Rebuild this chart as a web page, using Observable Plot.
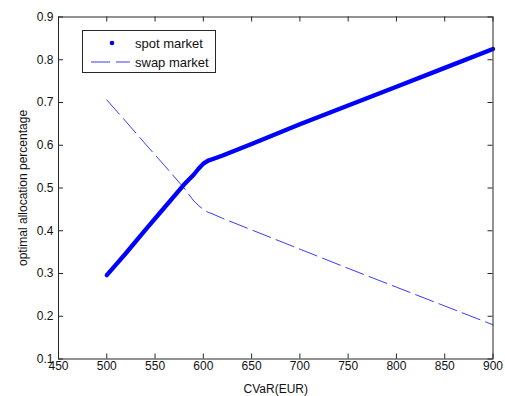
<!DOCTYPE html>
<html>
<head>
<meta charset="utf-8">
<script src="https://cdn.jsdelivr.net/npm/d3@7"></script>
<script src="https://cdn.jsdelivr.net/npm/@observablehq/plot@0.6"></script>
<style>
  body { margin: 0; background: #fff; }
  #wrap { position: relative; width: 505px; height: 396px; font-family: "Liberation Sans", Arial, sans-serif; }
  #legend { position: absolute; left: 82px; top: 30px; width: 132px; height: 41px; border: 1px solid #262626; background: #fff; font-size: 13px; color: #111; }
  #legend .row { position: absolute; left: 0; height: 16px; display: flex; align-items: center; }
  #legend svg { display: block; }
  #legend span { position: absolute; left: 52px; white-space: nowrap; }
</style>
</head>
<body>
<div id="wrap">
  <div id="chart"></div>
  <div id="legend">
    <div class="row" style="top:4px;width:132px"><svg width="50" height="16" style="position:absolute;left:0"><circle cx="29" cy="8" r="2.3" fill="#0000ff"/></svg><span>spot market</span></div>
    <div class="row" style="top:23px;width:132px"><svg width="50" height="16" style="position:absolute;left:0"><line x1="8" y1="8" x2="47" y2="8" stroke="#3a3aff" stroke-width="1" stroke-dasharray="19,6"/></svg><span>swap market</span></div>
  </div>
</div>
<script>
// spot market (optimal allocation vs CVaR)
const spotX = [500, 510, 520, 540, 560, 580, 590, 595, 600, 605, 610, 620, 650, 700, 750, 800, 850, 900];
const spotY = [0.296, 0.322, 0.348, 0.402, 0.455, 0.508, 0.531, 0.545, 0.557, 0.564, 0.568, 0.576, 0.603, 0.649, 0.693, 0.737, 0.781, 0.825];
// swap market
const swapX = [500, 520, 540, 560, 580, 590, 595, 600, 605, 610, 620, 650, 700, 750, 800, 850, 900];
const swapY = [0.706, 0.655, 0.603, 0.552, 0.500, 0.470, 0.459, 0.450, 0.443, 0.439, 0.429, 0.402, 0.357, 0.312, 0.268, 0.224, 0.180];
// tick labels
const xTicks = [450, 500, 550, 600, 650, 700, 750, 800, 850, 900];
const yTicks = [0.1, 0.2, 0.3, 0.4, 0.5, 0.6, 0.7, 0.8, 0.9];

const spot = spotX.map((x, i) => ({x, y: spotY[i]}));
const swap = swapX.map((x, i) => ({x, y: swapY[i]}));

const W = 505, H = 396;
const mL = 58, mR = 12.5, mT = 16.5, mB = 37.5;
const innerW = W - mL - mR, innerH = H - mT - mB;
const tk = 5;
const axisColor = "#262626";

const chart = Plot.plot({
  width: W,
  height: H,
  marginLeft: mL,
  marginRight: mR,
  marginTop: mT,
  marginBottom: mB,
  style: { fontFamily: "Liberation Sans, Arial, sans-serif", fontSize: "13px", color: "#111", background: "#fff" },
  x: { domain: [450, 900] },
  y: { domain: [0.1, 0.9] },
  marks: [
    Plot.line(swap, { x: "x", y: "y", stroke: "#3a3aff", strokeWidth: 1, strokeDasharray: "19,6" }),
    Plot.line(spot, { x: "x", y: "y", stroke: "#0000ff", strokeWidth: 4.3, strokeLinejoin: "round", strokeLinecap: "round" }),
    // inward ticks on all four sides
    Plot.ruleX(xTicks, { x: d => d, stroke: axisColor, insetTop: innerH - tk }),
    Plot.ruleX(xTicks, { x: d => d, stroke: axisColor, insetBottom: innerH - tk }),
    Plot.ruleY(yTicks, { y: d => d, stroke: axisColor, insetRight: innerW - tk }),
    Plot.ruleY(yTicks, { y: d => d, stroke: axisColor, insetLeft: innerW - tk }),
    Plot.frame({ stroke: axisColor }),
    Plot.axisX({ ticks: xTicks, tickSize: 0, tickPadding: 2, tickFormat: d => String(d), label: "CVaR(EUR)", labelAnchor: "center", labelArrow: "none", labelOffset: 34, fontSize: 13 }),
    Plot.axisY({ ticks: yTicks, tickSize: 0, tickPadding: 5, tickFormat: d3.format(".1f"), label: "optimal allocation percentage", labelAnchor: "center", labelArrow: "none", labelOffset: 40 })
  ]
});
// axis titles slightly smaller than tick labels, as in the reference
chart.querySelectorAll("[aria-label$='label'] text, [aria-label='x-axis label'], [aria-label='y-axis label']").forEach(n => n.setAttribute("font-size", "12"));
document.getElementById("chart").appendChild(chart);
</script>
</body>
</html>
